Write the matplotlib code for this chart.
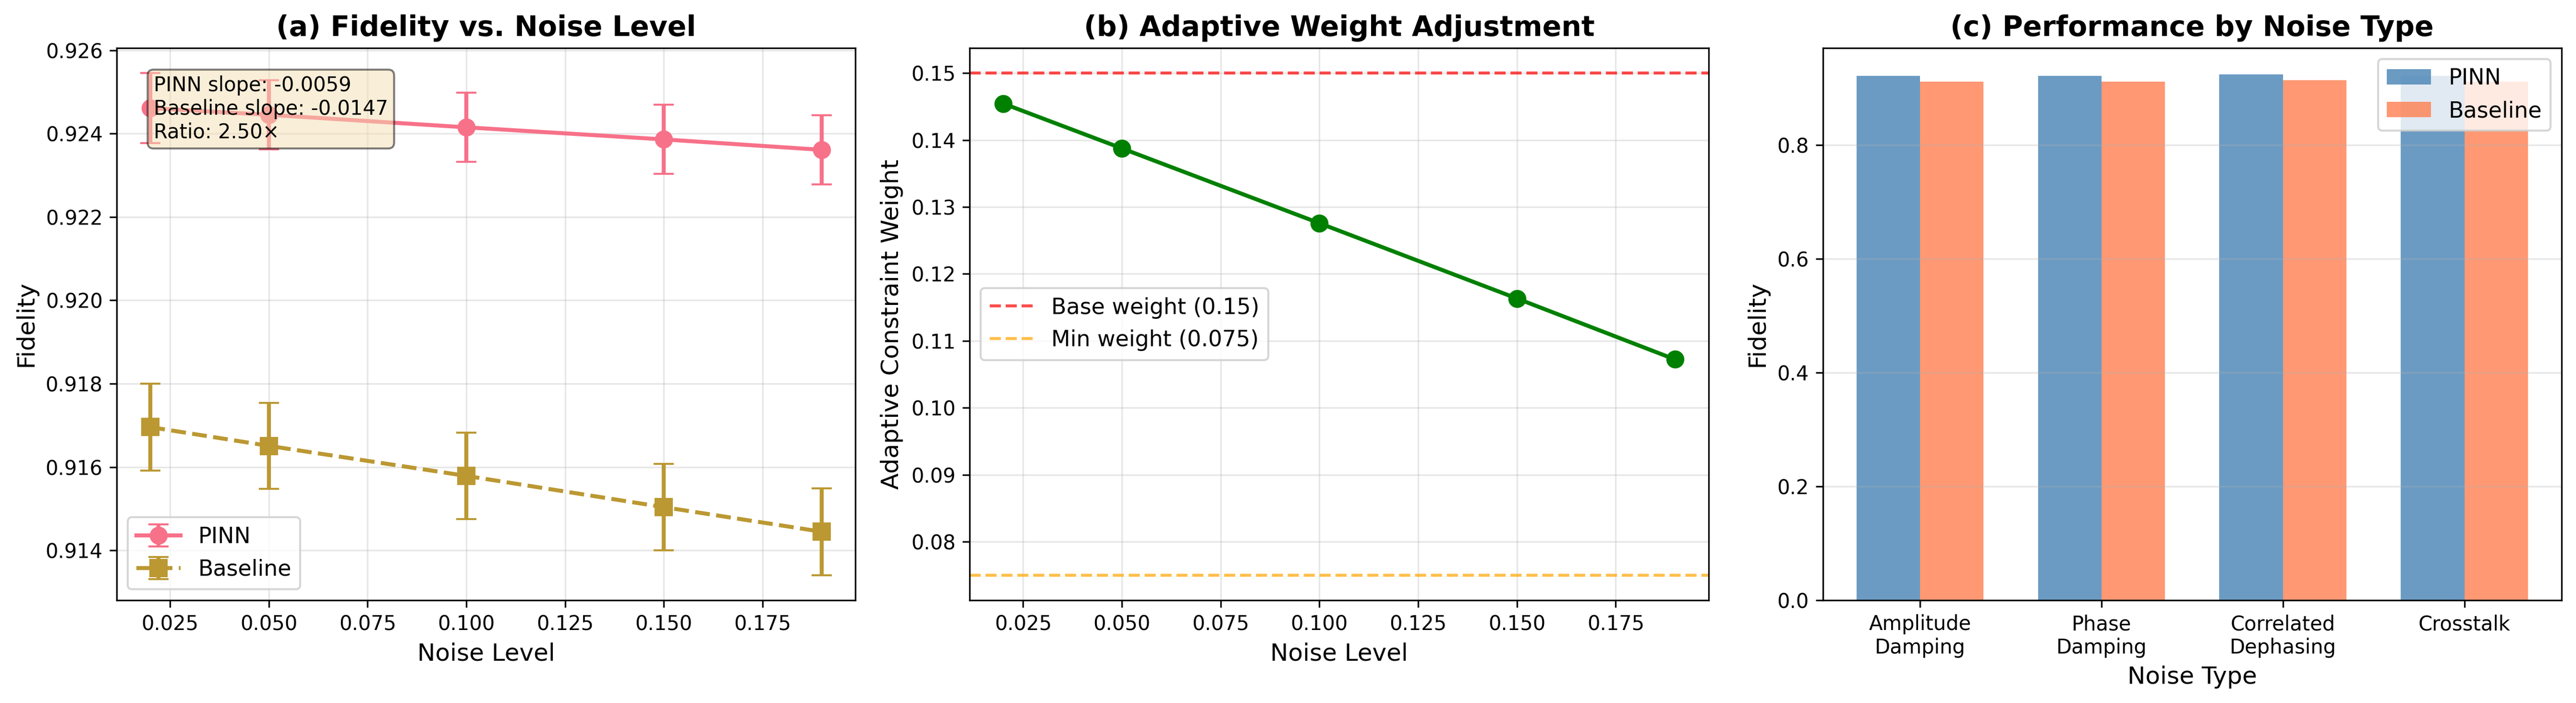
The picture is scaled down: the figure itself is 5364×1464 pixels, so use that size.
import numpy as np
import matplotlib
matplotlib.use("Agg")
import matplotlib.pyplot as plt
import seaborn as sns

sns.set_palette("husl")

# Panel (a): fidelity vs noise level
noise_levels = [0.02, 0.05, 0.10, 0.15, 0.19]
pinn_fid = [0.92461, 0.92445, 0.92415, 0.92386, 0.92361]
pinn_err = [0.00084, 0.00083, 0.00083, 0.00083, 0.00083]
base_fid = [0.91696, 0.91651, 0.91579, 0.91504, 0.91445]
base_err = [0.00104, 0.00103, 0.00104, 0.00104, 0.00104]
pinn_slope = -0.00588
base_slope = -0.0147

# Panel (b): adaptive weight
adaptive_w = [0.14545, 0.13876, 0.12758, 0.11633, 0.10723]
base_weight = 0.15
min_weight = 0.075

# Panel (c): performance by noise type
noise_types = ["Amplitude\nDamping", "Phase\nDamping", "Correlated\nDephasing", "Crosstalk"]
pinn_type = [0.9215, 0.9215, 0.9246, 0.9215]
base_type = [0.9120, 0.9120, 0.9144, 0.9120]

fig, axes = plt.subplots(1, 3, figsize=(17.88, 4.88))
fig.subplots_adjust(left=0.0453, right=0.9944, bottom=0.1462, top=0.9317, wspace=0.1547)

# (a)
ax = axes[0]
ax.errorbar(noise_levels, pinn_fid, yerr=pinn_err, fmt="o-", label="PINN",
            capsize=5, linewidth=2, markersize=8)
ax.errorbar(noise_levels, base_fid, yerr=base_err, fmt="s--", label="Baseline",
            capsize=5, linewidth=2, markersize=8)
ax.set_xlabel("Noise Level", fontsize=12)
ax.set_ylabel("Fidelity", fontsize=12)
ax.set_title("(a) Fidelity vs. Noise Level", fontsize=14, fontweight="bold")
ax.legend(loc="lower left", fontsize=11)
ax.grid(True, alpha=0.3)
ratio = base_slope / pinn_slope
ax.text(0.05, 0.95,
        f"PINN slope: {pinn_slope:.4f}\nBaseline slope: {base_slope:.4f}\nRatio: {ratio:.2f}\u00d7",
        transform=ax.transAxes, fontsize=10, va="top",
        bbox=dict(boxstyle="round", facecolor="wheat", alpha=0.5))

# (b)
ax = axes[1]
ax.plot(noise_levels, adaptive_w, "o-", color="green", linewidth=2, markersize=8)
ax.axhline(base_weight, color="red", linestyle="--", alpha=0.7,
           label=f"Base weight ({base_weight})")
ax.axhline(min_weight, color="orange", linestyle="--", alpha=0.7,
           label=f"Min weight ({min_weight})")
ax.set_xlabel("Noise Level", fontsize=12)
ax.set_ylabel("Adaptive Constraint Weight", fontsize=12)
ax.set_title("(b) Adaptive Weight Adjustment", fontsize=14, fontweight="bold")
ax.legend(loc="center left", fontsize=11)
ax.grid(True, alpha=0.3)

# (c)
ax = axes[2]
x = np.arange(len(noise_types))
width = 0.35
ax.bar(x - width / 2, pinn_type, width, label="PINN", color="steelblue", alpha=0.8)
ax.bar(x + width / 2, base_type, width, label="Baseline", color="coral", alpha=0.8)
ax.set_xticks(x)
ax.set_xticklabels(noise_types)
ax.set_xlabel("Noise Type", fontsize=12)
ax.set_ylabel("Fidelity", fontsize=12)
ax.set_title("(c) Performance by Noise Type", fontsize=14, fontweight="bold")
ax.legend(fontsize=11)
ax.grid(True, alpha=0.3, axis="y")

plt.savefig("out.png", dpi=300)
